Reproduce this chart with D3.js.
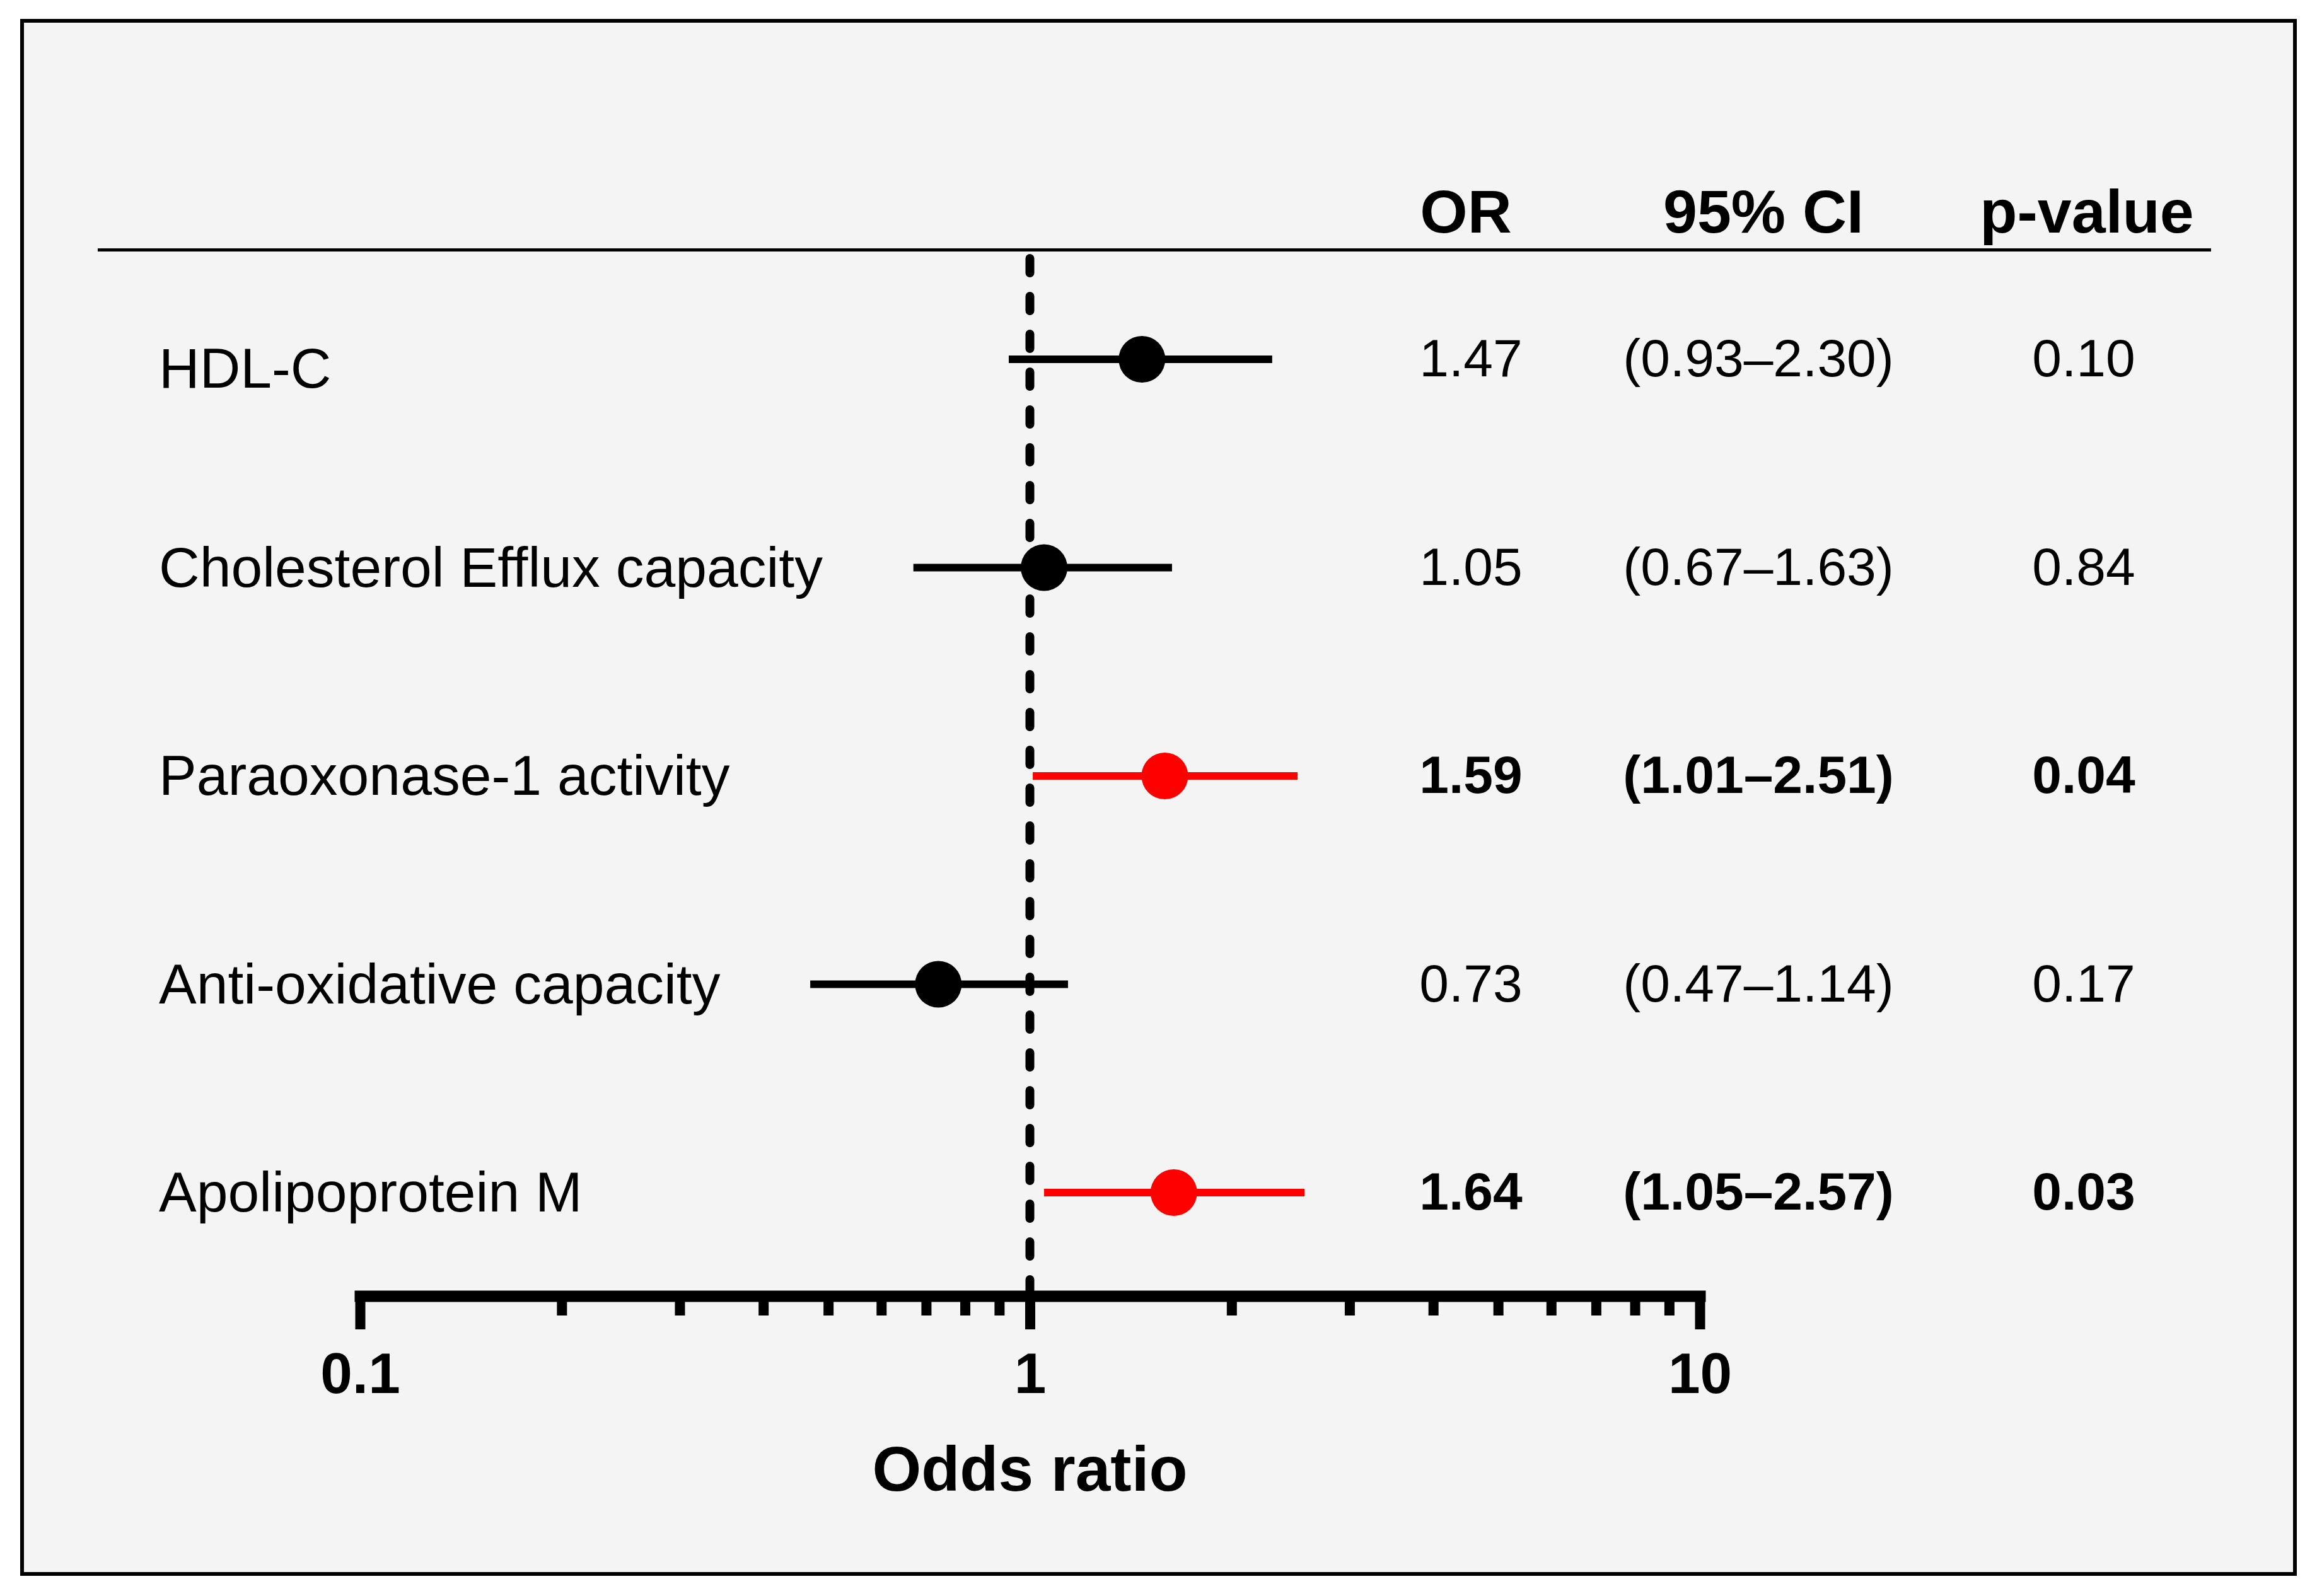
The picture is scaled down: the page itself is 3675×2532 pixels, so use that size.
<!DOCTYPE html>
<html>
<head>
<meta charset="utf-8">
<script src="https://cdn.jsdelivr.net/npm/d3@7"></script>
<style>
  html, body { margin: 0; padding: 0; background: #ffffff; }
  svg { display: block; }
  text { font-family: "Liberation Sans", Arial, Helvetica, sans-serif; }
</style>
</head>
<body>
<svg id="chart" width="3675" height="2532"></svg>
<script>
// ---- data ----
const categories = ["HDL-C", "Cholesterol Efflux capacity", "Paraoxonase-1 activity", "Anti-oxidative capacity", "Apolipoprotein M"];
const oddsRatio = [1.47, 1.05, 1.59, 0.73, 1.64];
const ciLower = [0.93, 0.67, 1.01, 0.47, 1.05];
const ciUpper = [2.30, 1.63, 2.51, 1.14, 2.57];
const pValues = ["0.10", "0.84", "0.04", "0.17", "0.03"];
const significant = [false, false, true, false, true];
const columnHeaders = ["OR", "95% CI", "p-value"];
const majorTicks = [0.1, 1, 10];
const minorTicks = [0.2, 0.3, 0.4, 0.5, 0.6, 0.7, 0.8, 0.9, 2, 3, 4, 5, 6, 7, 8, 9];
const tickLabels = ["0.1", "1", "10"];
const xAxisTitle = "Odds ratio";

const rows = categories.map((c, i) => ({
  name: c, or: oddsRatio[i], lo: ciLower[i], hi: ciUpper[i], p: pValues[i], sig: significant[i]
}));

// ---- layout ----
const svg = d3.select("#chart");
const W = 3675, H = 2532;
const sigColor = "#ff0000";
const fmt2 = d3.format(".2f");

svg.append("rect").attr("x", 0).attr("y", 0).attr("width", W).attr("height", H).attr("fill", "#ffffff");
svg.append("rect")
  .attr("x", 35).attr("y", 33).attr("width", 3605).attr("height", 2464)
  .attr("fill", "#f4f4f4").attr("stroke", "#000").attr("stroke-width", 6);

const x = d3.scaleLog().domain([0.1, 10]).range([571, 2696]);
const y = d3.scalePoint().domain(categories).range([570, 1892]);

const colX = { or: 2333, ci: 2789, p: 3305 };
const headerX = [2325, 2797, 3310];

// header
svg.append("g").selectAll("text").data(columnHeaders).join("text")
  .attr("x", (d, i) => headerX[i]).attr("y", 369)
  .attr("text-anchor", "middle")
  .attr("font-size", 97).attr("font-weight", "bold").attr("fill", "#000")
  .text(d => d);

svg.append("line")
  .attr("x1", 155).attr("x2", 3507).attr("y1", 396.5).attr("y2", 396.5)
  .attr("stroke", "#000").attr("stroke-width", 5);

// reference line at OR = 1
const axisY = 2056;
svg.append("line")
  .attr("x1", x(1)).attr("x2", x(1))
  .attr("y1", 410).attr("y2", axisY - 9)
  .attr("stroke", "#000").attr("stroke-width", 14)
  .attr("stroke-dasharray", "23,37").attr("stroke-linecap", "round");

// axis: minor ticks
const minorAxis = d3.axisBottom(x).tickValues(minorTicks).tickSize(31).tickFormat("").tickSizeOuter(0);
const gMinor = svg.append("g").attr("transform", `translate(0,${axisY})`).call(minorAxis);
gMinor.select(".domain").remove();
gMinor.selectAll(".tick line").attr("stroke", "#000").attr("stroke-width", 16);

// axis: major ticks with labels
const majorAxis = d3.axisBottom(x).tickValues(majorTicks).tickSize(53).tickSizeOuter(0)
  .tickFormat((d, i) => tickLabels[i]);
const gMajor = svg.append("g").attr("transform", `translate(0,${axisY})`).call(majorAxis);
gMajor.select(".domain").attr("stroke", "#000").attr("stroke-width", 18).attr("stroke-linecap", "square");
gMajor.selectAll(".tick line").attr("stroke", "#000").attr("stroke-width", 16);
gMajor.selectAll(".tick text")
  .attr("y", 154).attr("dy", null)
  .attr("font-family", "\"Liberation Sans\", Arial, sans-serif")
  .attr("font-size", 91).attr("font-weight", "bold").attr("fill", "#000");

svg.append("text")
  .attr("x", x(1)).attr("y", 2365)
  .attr("text-anchor", "middle")
  .attr("font-size", 100).attr("font-weight", "bold").attr("fill", "#000")
  .text(xAxisTitle);

// CI lines and points
const g = svg.append("g");
g.selectAll("line.ci").data(rows).join("line").attr("class", "ci")
  .attr("x1", d => x(d.lo)).attr("x2", d => x(d.hi))
  .attr("y1", d => y(d.name)).attr("y2", d => y(d.name))
  .attr("stroke", d => d.sig ? sigColor : "#000").attr("stroke-width", 12);
g.selectAll("circle").data(rows).join("circle")
  .attr("cx", d => x(d.or)).attr("cy", d => y(d.name)).attr("r", 37)
  .attr("fill", d => d.sig ? sigColor : "#000");

// row labels (first label sits slightly lower in the original)
const labelNudge = (d, i) => (i === 0 ? 45 : 30);
svg.append("g").selectAll("text").data(rows).join("text")
  .attr("x", 252).attr("y", (d, i) => y(d.name) + labelNudge(d, i))
  .attr("font-size", 89.5).attr("fill", "#000")
  .text(d => d.name);

// table columns
const tbl = svg.append("g").selectAll("g").data(rows).join("g")
  .attr("transform", d => `translate(0,${y(d.name) + 27})`)
  .attr("font-size", 84).attr("fill", "#000")
  .attr("font-weight", d => d.sig ? "bold" : "normal")
  .attr("text-anchor", "middle");
tbl.append("text").attr("x", colX.or).text(d => fmt2(d.or));
tbl.append("text").attr("x", colX.ci).text(d => `(${fmt2(d.lo)}\u2013${fmt2(d.hi)})`);
tbl.append("text").attr("x", colX.p).text(d => d.p);
</script>
</body>
</html>
